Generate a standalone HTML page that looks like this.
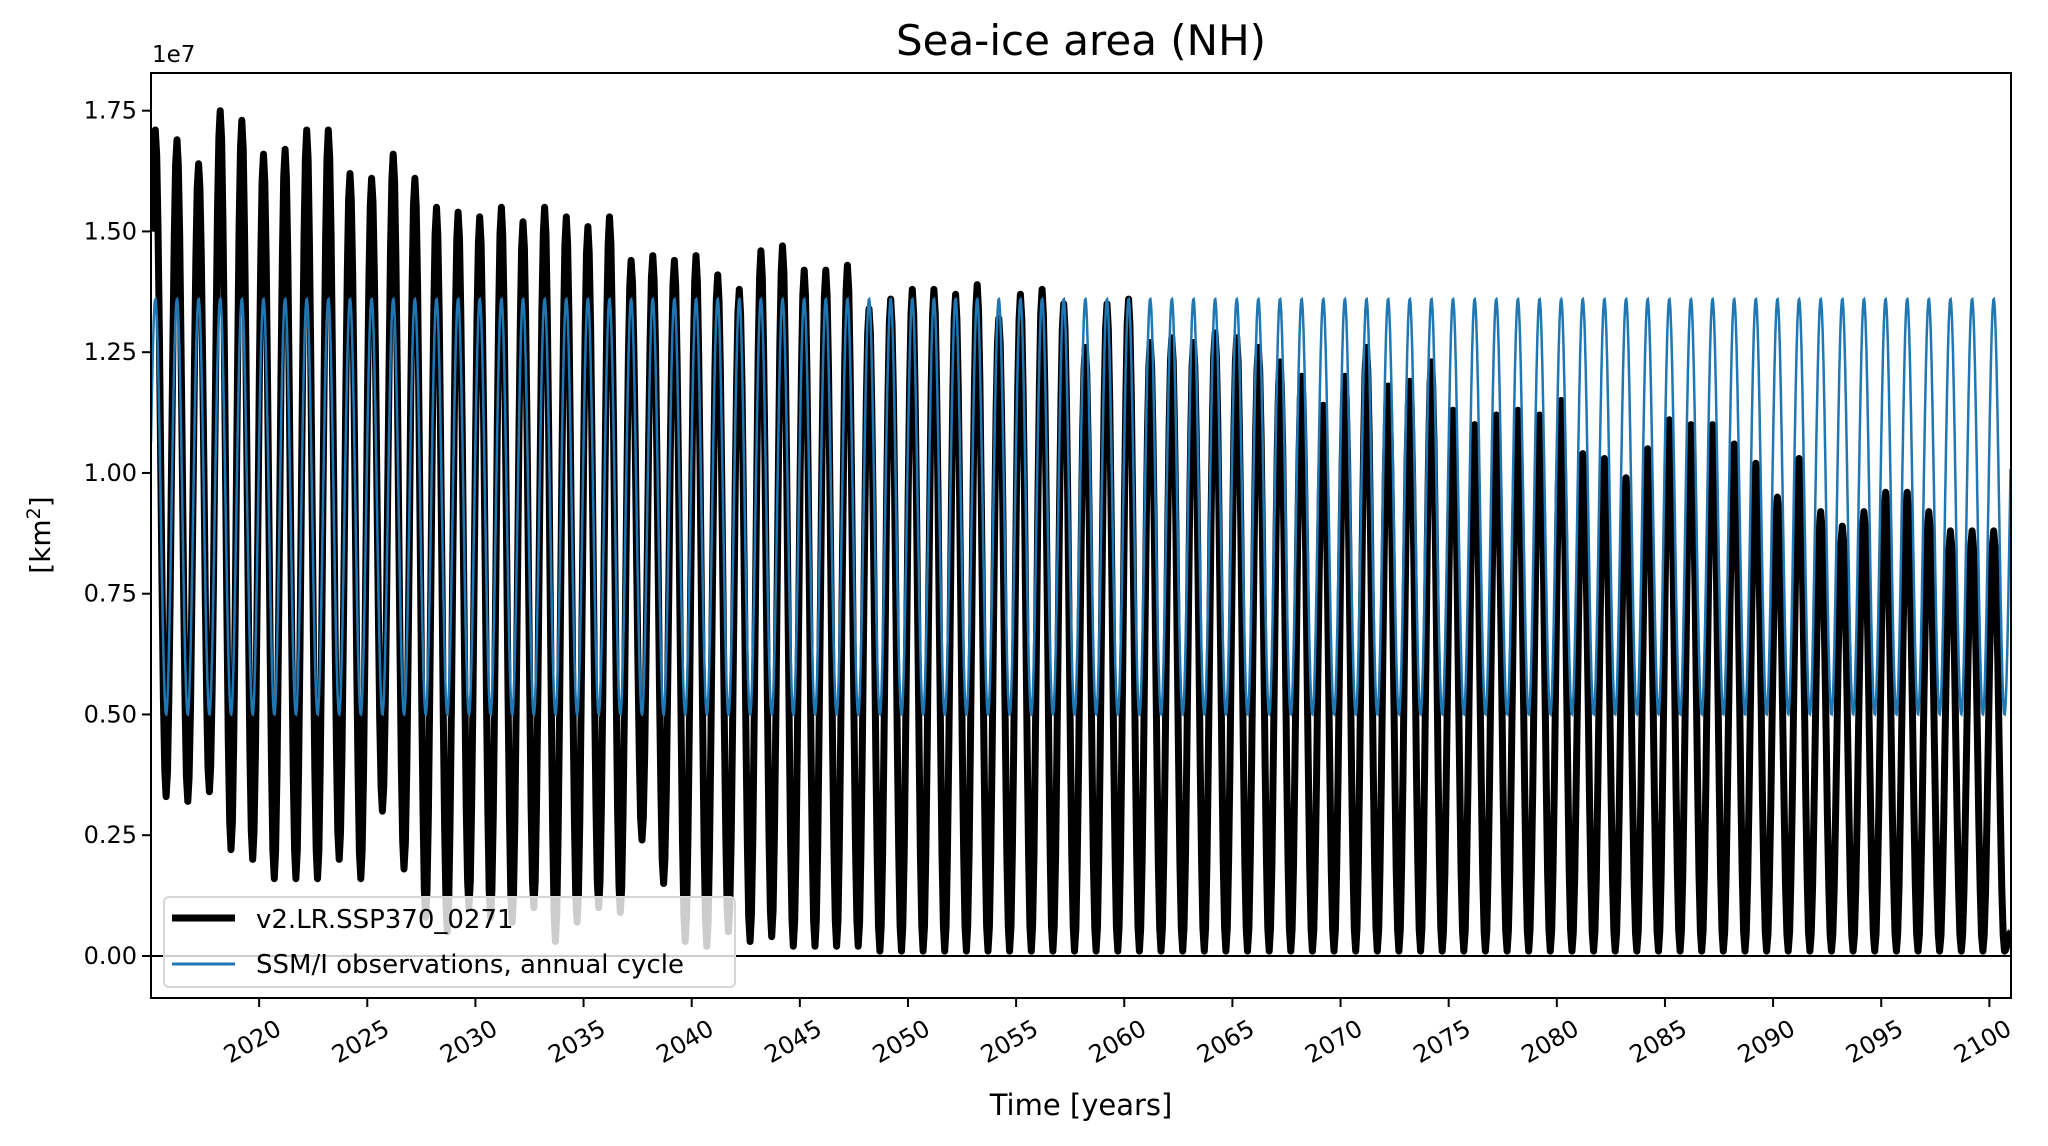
<!DOCTYPE html>
<html><head><meta charset="utf-8"><style>
body{margin:0;background:#fff;}
svg text{font-family:"DejaVu Sans","Liberation Sans",sans-serif;fill:#000;}
</style></head><body>
<svg id="chart" width="2048" height="1141" viewBox="0 0 2048 1141" xmlns="http://www.w3.org/2000/svg">
<rect width="2048" height="1141" fill="#fff"/>
<text x="1081" y="55" font-size="42" text-anchor="middle">Sea-ice area (NH)</text>
<defs><clipPath id="clip"><rect x="151" y="73" width="1860" height="925"/></clipPath></defs>
<g id="marks" clip-path="url(#clip)"></g>
<g id="axes"></g>
<text x="152" y="62" font-size="23">1e7</text>
<text transform="translate(50,535) rotate(-90)" font-size="28" text-anchor="middle">[km<tspan dy="-10" font-size="19">2</tspan><tspan dy="10">]</tspan></text>
<text x="1081" y="1115" font-size="29" text-anchor="middle">Time [years]</text>
<g>
<rect x="164" y="897" width="571" height="90" rx="5" fill="#fff" fill-opacity="0.8" stroke="#d6d6d6" stroke-width="2"/>
<line x1="172" y1="918" x2="235" y2="918" stroke="#000" stroke-width="7"/>
<text x="256" y="928" font-size="26">v2.LR.SSP370_0271</text>
<line x1="172" y1="964" x2="235" y2="964" stroke="#1f77b4" stroke-width="3"/>
<text x="256" y="973" font-size="26">SSM/I observations, annual cycle</text>
</g>
</svg>
<script>
const startYear = 2015;
const yearMax = [1.71,1.69,1.64,1.75,1.73,1.66,1.67,1.71,1.71,1.62,1.61,1.66,1.61,1.55,1.54,1.53,1.55,1.52,1.55,1.53,1.51,1.53,1.44,1.45,1.44,1.45,1.41,1.38,1.46,1.47,1.42,1.42,1.43,1.34,1.36,1.38,1.38,1.37,1.39,1.32,1.37,1.38,1.35,1.26,1.35,1.36,1.27,1.28,1.27,1.29,1.28,1.26,1.23,1.20,1.14,1.20,1.26,1.18,1.19,1.23,1.13,1.10,1.12,1.13,1.12,1.15,1.04,1.03,0.99,1.05,1.11,1.10,1.10,1.06,1.02,0.95,1.03,0.92,0.89,0.92,0.96,0.96,0.92,0.88,0.88,0.88];
const yearMin = [0.33,0.32,0.34,0.22,0.20,0.16,0.16,0.16,0.20,0.16,0.30,0.18,0.08,0.05,0.10,0.08,0.07,0.10,0.03,0.07,0.10,0.09,0.24,0.15,0.03,0.02,0.05,0.03,0.04,0.02,0.02,0.02,0.02,0.01,0.01,0.01,0.01,0.01,0.01,0.01,0.01,0.01,0.01,0.01,0.01,0.01,0.01,0.01,0.01,0.01,0.01,0.01,0.01,0.01,0.01,0.01,0.01,0.01,0.01,0.01,0.01,0.01,0.01,0.01,0.01,0.01,0.01,0.01,0.01,0.01,0.01,0.01,0.01,0.01,0.01,0.01,0.01,0.01,0.01,0.01,0.01,0.01,0.01,0.01,0.01,0.01];
const obsMax = 1.36;
const obsMin = 0.50;
const yTicks = [0,0.25,0.5,0.75,1.0,1.25,1.5,1.75];
const yTickLabels = ["0.00","0.25","0.50","0.75","1.00","1.25","1.50","1.75"];
const xTicks = [2020,2025,2030,2035,2040,2045,2050,2055,2060,2065,2070,2075,2080,2085,2090,2095,2100];

const L=151,R=2011,T=73,B=998;
const xMin=2015.0,xMax=2101.0,yMin=-0.087,yMax=1.828;
const X=v=>L+(v-xMin)/(xMax-xMin)*(R-L);
const Y=v=>B-(v-yMin)/(yMax-yMin)*(B-T);
const NS="http://www.w3.org/2000/svg";
const marks=document.getElementById('marks'), axes=document.getElementById('axes');
function mk(tag,attrs,parent){const e=document.createElementNS(NS,tag);for(const k in attrs)e.setAttribute(k,attrs[k]);parent.appendChild(e);return e;}

const ext=[[xMin,1.50]];
for(let i=0;i<yearMax.length;i++){ext.push([startYear+i+0.2,yearMax[i]]);ext.push([startYear+i+0.7,yearMin[i]]);}
ext.push([xMax,0.05]);
let d="";
for(let k=0;k<ext.length-1;k++){
  const [t0,v0]=ext[k],[t1,v1]=ext[k+1];
  for(let s=0;s<=8;s++){const f=s/8;const t=t0+(t1-t0)*f;const v=v0+(v1-v0)*(1-Math.cos(Math.PI*f))/2;
    d+=(d?"L":"M")+X(t).toFixed(1)+","+Y(v).toFixed(1);}
}
const zl=mk('line',{x1:L,x2:R,y1:Y(0),y2:Y(0),stroke:'#000','stroke-width':2},marks);


const mp=mk('path',{d:d,fill:'none',stroke:'#000','stroke-width':7,'stroke-linejoin':'round'},marks);


let d2="";
const mid=(obsMax+obsMin)/2,amp=(obsMax-obsMin)/2;
for(let t=xMin;t<=xMax;t+=1/48){const v=mid+amp*Math.cos(2*Math.PI*(t-0.2));d2+=(d2?"L":"M")+X(t).toFixed(1)+","+Y(v).toFixed(1);}
const op=mk('path',{d:d2,fill:'none',stroke:'#1f77b4','stroke-width':2.5},marks);



const fr=mk('rect',{x:L,y:T,width:R-L,height:B-T,fill:'none',stroke:'#000','stroke-width':2},axes);


yTicks.forEach((v,i)=>{
  const tl=mk('line',{x1:L-9,x2:L,y1:Y(v),y2:Y(v),stroke:'#000','stroke-width':2},axes);
  
  
  const tx=mk('text',{x:L-14,y:Y(v)+8,'font-size':24,'text-anchor':'end'},axes);
  tx.textContent=yTickLabels[i];
  
  
});
xTicks.forEach(v=>{
  const x=X(v);
  const tl=mk('line',{x1:x,x2:x,y1:B,y2:B+9,stroke:'#000','stroke-width':2},axes);
  
  
  const tx=mk('text',{transform:`translate(${x+15},${B+20}) rotate(-30)`,'font-size':24,'text-anchor':'end','dominant-baseline':'hanging'},axes);
  tx.textContent=String(v);
  
  
});
</script>
</body></html>
